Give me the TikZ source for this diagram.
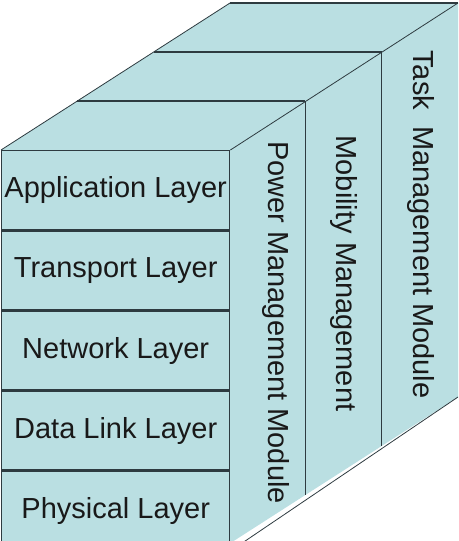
\documentclass[tikz,border=0pt]{standalone}
\usepackage{fontspec}
\setmainfont{Liberation Sans}
\usetikzlibrary{positioning}
\definecolor{slab}{HTML}{BADFE2}
\definecolor{edge}{HTML}{2E3B40}
\tikzset{
  layer/.style={draw=edge, line width=1.4pt, fill=slab, minimum width=228pt, minimum height=78.8pt, inner sep=0pt, text=black!90, font=\fontsize{29}{34}\selectfont},
  module/.style={rotate=-90, inner sep=0pt, text=black!90, font=\fontsize{29}{34}\selectfont}
}
\begin{document}
\begin{tikzpicture}[x=1pt, y=-1pt]
  \useasboundingbox (0,0) rectangle (458,541);
  % body of the stack
  \fill[slab] (1,150) -- (230,3) -- (458,3) -- (458,397) -- (229,544) -- (1,544) -- cycle;
  % protocol layers on the front face
  \node[layer, anchor=north west] (app) at (1,150) {Application Layer};
  \node[layer, below=0pt of app] (trans) {Transport Layer};
  \node[layer, below=0pt of trans] (net) {Network Layer};
  \node[layer, below=0pt of net] (link) {Data Link Layer};
  \node[layer, below=0pt of link] (phy) {Physical Layer};
  % slabs behind
  \draw[edge, line width=1.4pt] (305.3,101) -- (305.3,495);
  \draw[edge, line width=1.4pt] (381.6,52) -- (381.6,446);
  \draw[edge, line width=1.4pt] (77.3,101) -- (305.3,101);
  \draw[edge, line width=1.4pt] (153.6,52) -- (381.6,52);
  \draw[edge, line width=1.4pt] (230,3) -- (458,3);
  \draw[edge, line width=0.8pt] (app.north west) -- (230,3);
  \draw[edge, line width=0.8pt] (app.north east) -- (458,3);
  \draw[edge, line width=0.8pt] (phy.south east) -- (458,397);
  % management planes
  \node[module] (power) at (276,322.5) {Power Management Module};
  \node[module] (mob) at (344,273.5) {Mobility Management};
  \node[module] (task) at (421,224.5) {Task\ \ Management Module};
\end{tikzpicture}
\end{document}
